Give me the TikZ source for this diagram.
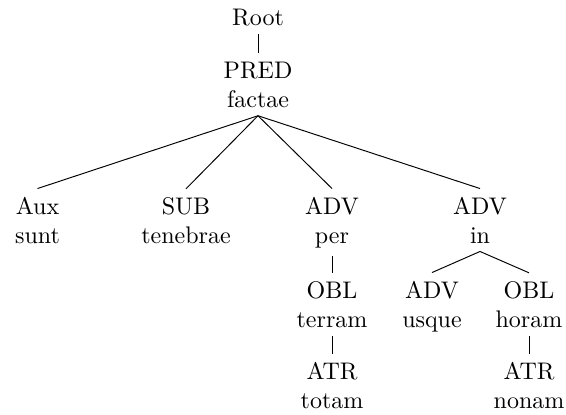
\documentclass[tikz,border=0pt]{standalone}
\usepackage{amsmath}
\usepackage{tikz}

\begin{document}
\begin{tikzpicture}[x=0.4167pt, y=-0.4167pt, lbl/.style={align=center, anchor=base}]
                \useasboundingbox (0, 0) rectangle (566, 414);
                \node[lbl] (root) at (258, 25) {Root};
                \node[lbl] (pred) at (258, 107) {PRED\\factae};
                \node[lbl] (aux) at (37.5, 243) {Aux\\sunt};
                \node[lbl] (sub) at (186, 243) {SUB\\tenebrae};
                \node[lbl] (per) at (332, 243) {ADV\\per};
                \node[lbl] (in) at (480, 243) {ADV\\in};
                \node[lbl] (terram) at (332, 327) {OBL\\terram};
                \node[lbl] (usque) at (432, 327) {ADV\\usque};
                \node[lbl] (horam) at (529, 327) {OBL\\horam};
                \node[lbl] (totam) at (332, 408) {ATR\\totam};
                \node[lbl] (nonam) at (529, 408) {ATR\\nonam};
                \draw (root.south) -- (pred.north);
                \draw (pred.south) -- (aux.north);
                \draw (pred.south) -- (sub.north);
                \draw (pred.south) -- (per.north);
                \draw (pred.south) -- (in.north);
                \draw (per.south) -- (terram.north);
                \draw (terram.south) -- (totam.north);
                \draw (in.south) -- (usque.north);
                \draw (in.south) -- (horam.north);
                \draw (horam.south) -- (nonam.north);
            \end{tikzpicture}
\end{document}
